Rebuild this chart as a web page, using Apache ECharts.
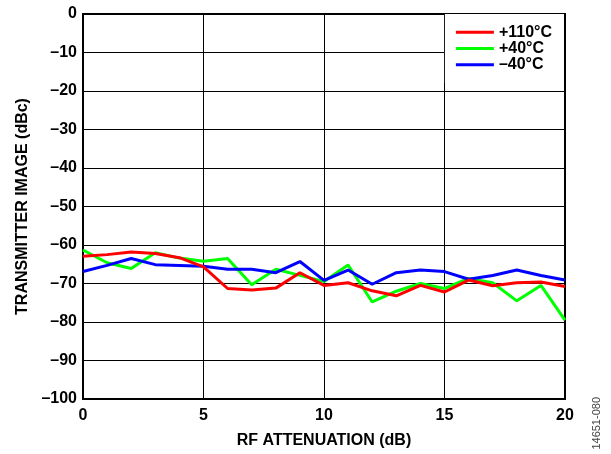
<!DOCTYPE html>
<html>
<head>
<meta charset="utf-8">
<script src="https://cdn.jsdelivr.net/npm/echarts@6/dist/echarts.min.js"></script>
<style>
  html, body { margin: 0; padding: 0; background: #fff; }
  #chart { width: 611px; height: 454px; }
</style>
</head>
<body>
<div id="chart"></div>
<script>
// RF attenuation steps (dB)
const attenuation = [0, 1, 2, 3, 4, 5, 6, 7, 8, 9, 10, 11, 12, 13, 14, 15, 16, 17, 18, 19, 20];

// transmitter image (dBc) per temperature
const image110 = [-62.9, -62.5, -61.8, -62.2, -63.3, -65.7, -71.3, -71.7, -71.2, -67.2, -70.5,
  -69.8, -71.9, -73.2, -70.5, -72.2, -69.1, -70.6, -69.8, -69.6, -70.8];
const image40 = [-61.3, -64.6, -66.1, -62.0, -63.4, -64.2, -63.5, -70.3, -66.3, -67.9, -69.5,
  -65.2, -74.8, -72.0, -70.0, -71.3, -68.7, -69.8, -74.5, -70.5, -79.5];
const imageM40 = [-66.9, -65.3, -63.5, -65.1, -65.3, -65.5, -66.3, -66.3, -67.2, -64.3, -69.2,
  -66.5, -70.2, -67.2, -66.5, -66.9, -68.9, -67.9, -66.5, -67.9, -69.1];

const legendNames = ['+110°C', '+40°C', '–40°C'];

function dash(v) {
  return String(v).replace('-', '–');
}

function toPairs(ys) {
  return attenuation.map((x, i) => [x, ys[i]]);
}

const chart = echarts.init(document.getElementById('chart'));
const font = 'Liberation Sans, Arial, sans-serif';

const option = {
  animation: false,
  textStyle: { fontFamily: font },
  grid: { left: 83, right: 46, top: 14, bottom: 54, show: true, borderColor: '#000', borderWidth: 2 },
  legend: {
    data: legendNames,
    orient: 'vertical',
    top: 14,
    right: 47,
    padding: [10, 12, 10, 11],
    itemGap: 0,
    itemWidth: 38,
    itemHeight: 3,
    icon: 'rect',
    backgroundColor: '#fff',
    borderWidth: 0,
    textStyle: { fontFamily: font, fontWeight: 'bold', fontSize: 16, color: '#000', lineHeight: 16.3 }
  },
  xAxis: {
    type: 'value',
    min: 0,
    max: 20,
    interval: 5,
    name: 'RF ATTENUATION (dB)',
    nameLocation: 'middle',
    nameGap: 34,
    nameTextStyle: { fontFamily: font, fontWeight: 'bold', fontSize: 16, color: '#000' },
    axisLine: { show: false },
    axisTick: { show: false },
    axisLabel: { color: '#000', fontWeight: 'bold', fontSize: 16, margin: 9 },
    splitLine: { lineStyle: { color: '#000', width: 1 } }
  },
  yAxis: {
    type: 'value',
    min: -100,
    max: 0,
    interval: 10,
    name: 'TRANSMITTER IMAGE (dBc)',
    nameLocation: 'middle',
    nameGap: 51,
    nameTextStyle: { fontFamily: font, fontWeight: 'bold', fontSize: 16, color: '#000' },
    axisLine: { show: false },
    axisTick: { show: false },
    axisLabel: { color: '#000', fontWeight: 'bold', fontSize: 16, margin: 6, formatter: dash },
    splitLine: { lineStyle: { color: '#000', width: 1 } }
  },
  series: [
    {
      name: '+40°C', type: 'line', data: toPairs(image40), color: '#00ff00',
      showSymbol: false, lineStyle: { width: 3 }
    },
    {
      name: '–40°C', type: 'line', data: toPairs(imageM40), color: '#0000ff',
      showSymbol: false, lineStyle: { width: 3 }
    },
    {
      name: '+110°C', type: 'line', data: toPairs(image110), color: '#ff0000',
      showSymbol: false, lineStyle: { width: 3 }
    }
  ],
  graphic: [
    {
      type: 'text',
      left: 591,
      top: 397,
      rotation: Math.PI / 2,
      style: { text: '14651-080', fontFamily: font, fontSize: 11, fill: '#444' }
    }
  ]
};

chart.setOption(option);
</script>
</body>
</html>
